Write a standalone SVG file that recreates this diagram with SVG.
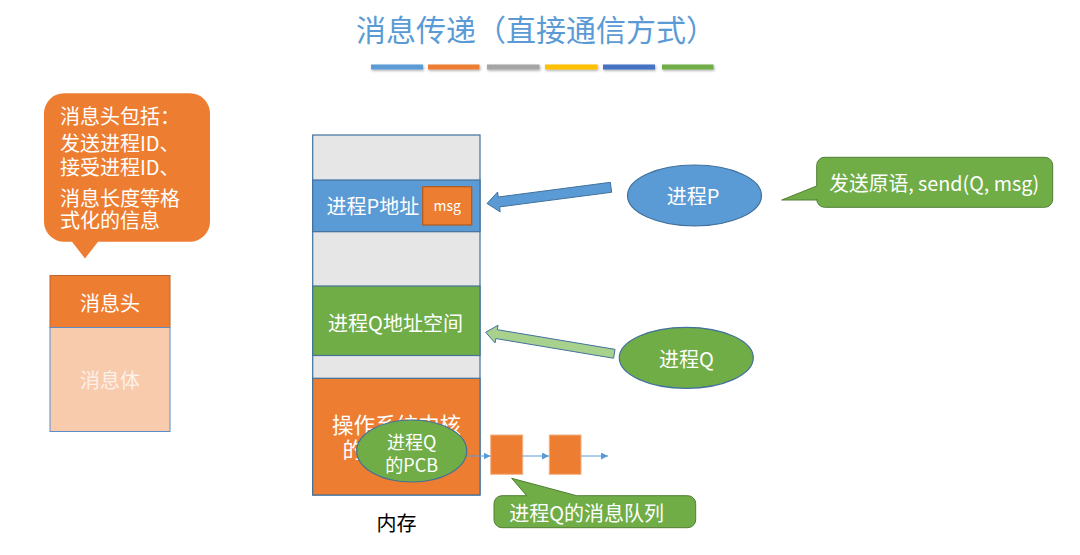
<svg xmlns="http://www.w3.org/2000/svg" width="1080" height="555" viewBox="0 0 1080 555">
<style>
text{font-family:"Noto Sans CJK SC","Liberation Sans",sans-serif;}
.w{fill:#FFFFFF;}
.c{text-anchor:middle;}
.seg{stroke:#41719C;stroke-width:1.2;}
.qbox{fill:#ED7D31;stroke:#F4B183;stroke-width:1;}
.ql{stroke:#5B9BD5;stroke-width:1;fill:none;marker-end:url(#ah);}
</style>
<defs>
<marker id="ah" viewBox="0 0 10 10" refX="10" refY="5" markerWidth="7" markerHeight="7" markerUnits="userSpaceOnUse" orient="auto">
<path d="M0,0 L10,5 L0,10 z" fill="#5B9BD5"/>
</marker>
<filter id="sh" x="-10%" y="-50%" width="120%" height="250%">
<feDropShadow dx="0.8" dy="1.2" stdDeviation="0.8" flood-color="#000" flood-opacity="0.35"/>
</filter>
</defs>
<rect width="1080" height="555" fill="#FFFFFF"/>

<g id="title">
<text x="356" y="41" font-size="30" fill="#5B9BD5">消息传递（直接通信方式）</text>
<g filter="url(#sh)">
<rect x="371" y="64.5" width="52" height="5" fill="#5B9BD5"/>
<rect x="428" y="64.5" width="51.5" height="5" fill="#ED7D31"/>
<rect x="487" y="64.5" width="52.5" height="5" fill="#A5A5A5"/>
<rect x="545" y="64.5" width="52.5" height="5" fill="#FFC000"/>
<rect x="603" y="64.5" width="52" height="5" fill="#4472C4"/>
<rect x="662" y="64.5" width="51.5" height="5" fill="#70AD47"/>
</g>
</g>

<g id="header-callout">
<path d="M64,93.3 H190 A20,20 0 0 1 210,113.3 V221.7 A20,20 0 0 1 190,241.7 H98 L85,258.5 L72,241.7 H64 A20,20 0 0 1 44,221.7 V113.3 A20,20 0 0 1 64,93.3 Z" fill="#ED7D31"/>
<text class="w" font-size="20"><tspan x="60" y="124">消息头包括：</tspan><tspan x="60" y="150.5">发送进程ID、</tspan><tspan x="60" y="174.5">接受进程ID、</tspan><tspan x="60" y="205.5">消息长度等格</tspan><tspan x="60" y="227.5">式化的信息</tspan></text>
</g>

<g id="msg-header">
<rect x="50" y="275.5" width="120" height="52" fill="#ED7D31" stroke="#C0652A" stroke-width="1"/>
<text class="w c" x="110" y="311" font-size="20">消息头</text>
</g>
<g id="msg-body">
<rect x="50" y="327.5" width="120" height="104" fill="#F8CBAD" stroke="#5B8DC8" stroke-width="1"/>
<text class="c" x="110" y="387.5" font-size="20" fill="#FDF0E8">消息体</text>
</g>

<g id="memory">
<rect x="312.7" y="135" width="167.3" height="360" fill="#E7E6E6" class="seg"/>
</g>
<g id="seg-p">
<rect x="312.7" y="180" width="167.3" height="51.7" fill="#5B9BD5" class="seg"/>
<text class="w" x="326.5" y="214.3" font-size="20">进程P地址</text>
</g>
<g id="msg">
<rect x="422.7" y="186.7" width="49" height="38.3" fill="#ED7D31" stroke="#AE5A21" stroke-width="1.2"/>
<text class="w c" x="447.2" y="211" font-size="14">msg</text>
</g>
<g id="seg-q">
<rect x="312.7" y="286" width="167.3" height="69.5" fill="#70AD47" class="seg"/>
<text class="w c" x="395.5" y="331" font-size="20">进程Q地址空间</text>
</g>
<g id="seg-kernel">
<rect x="312.7" y="378.3" width="167.3" height="116.7" fill="#ED7D31" class="seg"/>
<text class="w c" x="396.5" y="433" font-size="21.5">操作系统内核</text>
<text class="w" x="342.5" y="458" font-size="21.5">的</text>
</g>
<g id="pcb">
<ellipse cx="411.7" cy="451" rx="55" ry="31" fill="#70AD47" stroke="#41719C" stroke-width="1.2"/>
<text class="w c" x="411.7" y="448.5" font-size="18">进程Q</text>
<text class="w c" x="411.7" y="471.5" font-size="18">的PCB</text>
</g>
<g id="queue1"><rect class="qbox" x="490.7" y="435" width="32" height="39.3"/></g>
<g id="queue2"><rect class="qbox" x="549.3" y="435" width="31.7" height="39.3"/></g>

<text id="mem-label" class="c" x="396.5" y="530.5" font-size="20" fill="#000000">内存</text>

<g id="proc-p">
<ellipse cx="694.5" cy="195.5" rx="67" ry="30.5" fill="#5B9BD5" stroke="#41719C" stroke-width="1.2"/>
<text class="w c" x="693" y="204" font-size="20">进程P</text>
</g>
<g id="proc-q">
<ellipse cx="686.3" cy="357.8" rx="67" ry="30.5" fill="#70AD47" stroke="#41719C" stroke-width="1.2"/>
<text class="w c" x="686.5" y="367" font-size="20">进程Q</text>
</g>

<g id="send-callout">
<path d="M824.7,157.3 H1044.7 A8,8 0 0 1 1052.7,165.3 V199.3 A8,8 0 0 1 1044.7,207.3 H824.7 A8,8 0 0 1 816.7,199.3 V200 L781.7,200 L816.7,186 V165.3 A8,8 0 0 1 824.7,157.3 Z" fill="#70AD47" stroke="#507E32" stroke-width="1"/>
<text class="w" x="829.3" y="191" font-size="20" textLength="210" lengthAdjust="spacingAndGlyphs">发送原语, send(Q, msg)</text>
</g>

<g id="queue-callout">
<path d="M502,495.7 H526.7 L511.7,478.3 L576.7,495.7 H687.7 A8,8 0 0 1 695.7,503.7 V519.7 A8,8 0 0 1 687.7,527.7 H502 A8,8 0 0 1 494,519.7 V503.7 A8,8 0 0 1 502,495.7 Z" fill="#70AD47" stroke="#507E32" stroke-width="1"/>
<text class="w c" x="586.7" y="521" font-size="20">进程Q的消息队列</text>
</g>

<g id="connectors">
<polygon points="610.35,182.34 498.25,196.99 497.6,192.03 487,203.5 500.2,211.87 499.55,206.91 611.65,192.26" fill="#5B9BD5" stroke="#41719C" stroke-width="1"/>
<polygon points="615.05,349.36 497.3,329.68 498.04,325.24 485.7,332.3 495.06,342.98 495.8,338.56 613.55,358.24" fill="#A9D18E" stroke="#41719C" stroke-width="1"/>
<line class="ql" x1="466.7" y1="456" x2="490.5" y2="456"/>
<line class="ql" x1="522.7" y1="456" x2="549" y2="456"/>
<line class="ql" x1="581" y1="456" x2="608" y2="456"/>
</g>
</svg>
